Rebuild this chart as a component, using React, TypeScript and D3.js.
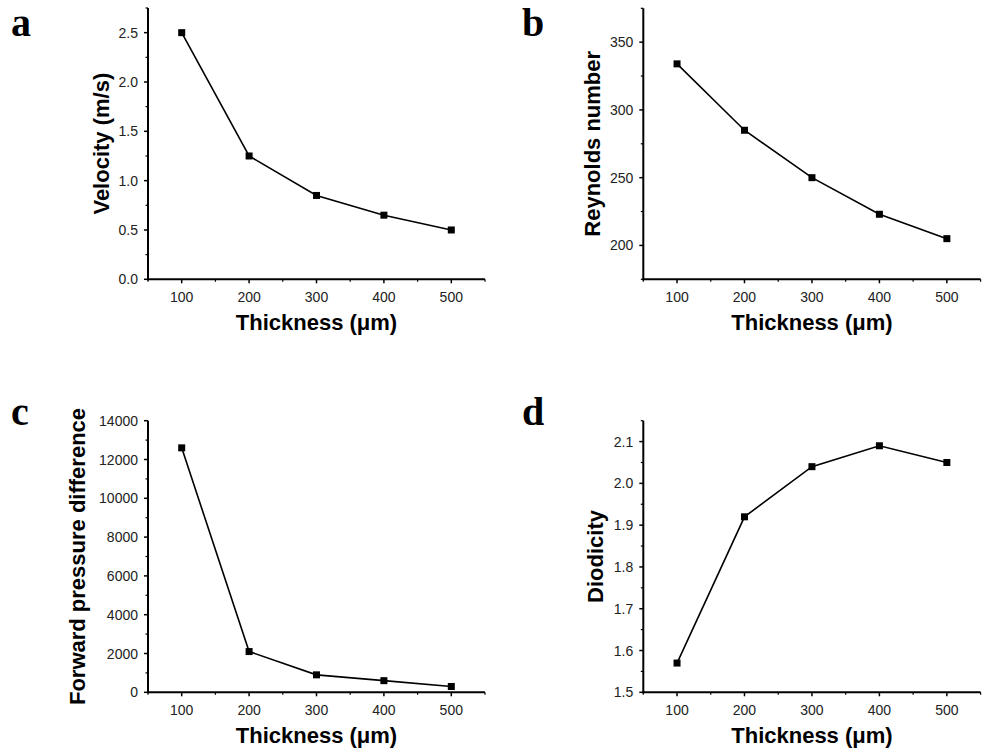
import React from "react";
import * as d3 from "d3";

const thickness = [100, 200, 300, 400, 500];
const velocity = [2.5, 1.25, 0.85, 0.65, 0.5];
const reynolds = [334, 285, 250, 223, 205];
const pressure = [12600, 2100, 900, 600, 300];
const diodicity = [1.57, 1.92, 2.04, 2.09, 2.05];

const xMajor = [100, 200, 300, 400, 500];
const xMinor = [50, 150, 250, 350, 450, 550];
const velMajor = [0, 0.5, 1.0, 1.5, 2.0, 2.5];
const velMinor = [0.25, 0.75, 1.25, 1.75, 2.25, 2.75];
const reyMajor = [200, 250, 300, 350];
const reyMinor = [175, 225, 275, 325, 375];
const preMajor = [0, 2000, 4000, 6000, 8000, 10000, 12000, 14000];
const preMinor = [1000, 3000, 5000, 7000, 9000, 11000, 13000];
const dioMajor = [1.5, 1.6, 1.7, 1.8, 1.9, 2.0, 2.1];
const dioMinor = [1.55, 1.65, 1.75, 1.85, 1.95, 2.05, 2.15];

type PanelProps = {
  letter: string;
  letterX: number;
  letterY: number;
  x0: number;
  x1: number;
  yTop: number;
  yBot: number;
  yDomain: [number, number];
  values: number[];
  major: number[];
  minor: number[];
  fmt: (v: number) => string;
  yLabel: string;
  yLabelX: number;
};

function Panel(p: PanelProps) {
  const x = d3.scaleLinear().domain([50, 550]).range([p.x0, p.x1]);
  const y = d3.scaleLinear().domain(p.yDomain).range([p.yBot, p.yTop]);
  const line = d3
    .line<number>()
    .x((_, i) => x(thickness[i]))
    .y((d) => y(d));
  const ms = 7;
  const tickFont = "Liberation Sans, Arial, sans-serif";
  return (
    <g>
      <text
        x={p.letterX}
        y={p.letterY}
        fontFamily="Liberation Serif, Times New Roman, serif"
        fontWeight="bold"
        fontSize={40}
      >
        {p.letter}
      </text>
      <line x1={p.x0} x2={p.x0} y1={p.yTop} y2={p.yBot + 1} stroke="#000" strokeWidth={2} />
      <line x1={p.x0 - 1} x2={p.x1} y1={p.yBot} y2={p.yBot} stroke="#000" strokeWidth={2} />
      {p.major.map((v) => (
        <g key={"ym" + v}>
          <line x1={p.x0 - 4} x2={p.x0} y1={y(v)} y2={y(v)} stroke="#000" strokeWidth={1.5} />
          <text
            x={p.x0 - 10}
            y={y(v) + 5}
            textAnchor="end"
            fontFamily={tickFont}
            fontSize={14}
            fill="#222"
          >
            {p.fmt(v)}
          </text>
        </g>
      ))}
      {p.minor.map((v) => (
        <line key={"yn" + v} x1={p.x0 - 2.5} x2={p.x0} y1={y(v)} y2={y(v)} stroke="#000" strokeWidth={1.2} />
      ))}
      {xMajor.map((v) => (
        <g key={"xm" + v}>
          <line x1={x(v)} x2={x(v)} y1={p.yBot} y2={p.yBot + 4} stroke="#000" strokeWidth={1.5} />
          <text
            x={x(v)}
            y={p.yBot + 22.5}
            textAnchor="middle"
            fontFamily={tickFont}
            fontSize={14}
            fill="#222"
          >
            {v}
          </text>
        </g>
      ))}
      {xMinor.map((v) => (
        <line key={"xn" + v} x1={x(v)} x2={x(v)} y1={p.yBot} y2={p.yBot + 2.5} stroke="#000" strokeWidth={1.2} />
      ))}
      <text
        x={(p.x0 + p.x1) / 2}
        y={p.yBot + 51}
        textAnchor="middle"
        fontFamily={tickFont}
        fontWeight="bold"
        fontSize={22}
      >
        Thickness (μm)
      </text>
      <text
        transform={`translate(${p.yLabelX},${(p.yTop + p.yBot) / 2}) rotate(-90)`}
        textAnchor="middle"
        dominantBaseline="central"
        fontFamily={tickFont}
        fontWeight="bold"
        fontSize={22}
      >
        {p.yLabel}
      </text>
      <path d={line(p.values) || ""} fill="none" stroke="#000" strokeWidth={1.6} />
      {p.values.map((v, i) => (
        <rect
          key={"pt" + i}
          x={x(thickness[i]) - ms / 2}
          y={y(v) - ms / 2}
          width={ms}
          height={ms}
          fill="#000"
        />
      ))}
    </g>
  );
}

export default function App() {
  return (
    <svg
      width={985}
      height={753}
      style={{ position: "absolute", left: 0, top: 0, background: "#fff" }}
    >
      <rect width={985} height={753} fill="#fff" />
      <Panel
        letter="a"
        letterX={11}
        letterY={36}
        x0={148}
        x1={485}
        yTop={8}
        yBot={279.3}
        yDomain={[0, 2.75]}
        values={velocity}
        major={velMajor}
        minor={velMinor}
        fmt={d3.format(".1f")}
        yLabel="Velocity (m/s)"
        yLabelX={101}
      />
      <Panel
        letter="b"
        letterX={522}
        letterY={36}
        x0={643.3}
        x1={980.6}
        yTop={8.3}
        yBot={279.3}
        yDomain={[175, 375]}
        values={reynolds}
        major={reyMajor}
        minor={reyMinor}
        fmt={d3.format("d")}
        yLabel="Reynolds number"
        yLabelX={592}
      />
      <Panel
        letter="c"
        letterX={11}
        letterY={425}
        x0={148}
        x1={485}
        yTop={420.7}
        yBot={692.3}
        yDomain={[0, 14000]}
        values={pressure}
        major={preMajor}
        minor={preMinor}
        fmt={d3.format("d")}
        yLabel="Forward pressure difference"
        yLabelX={77}
      />
      <Panel
        letter="d"
        letterX={522}
        letterY={425}
        x0={643.3}
        x1={980.6}
        yTop={420.7}
        yBot={692.3}
        yDomain={[1.5, 2.15]}
        values={diodicity}
        major={dioMajor}
        minor={dioMinor}
        fmt={d3.format(".1f")}
        yLabel="Diodicity"
        yLabelX={595}
      />
    </svg>
  );
}
